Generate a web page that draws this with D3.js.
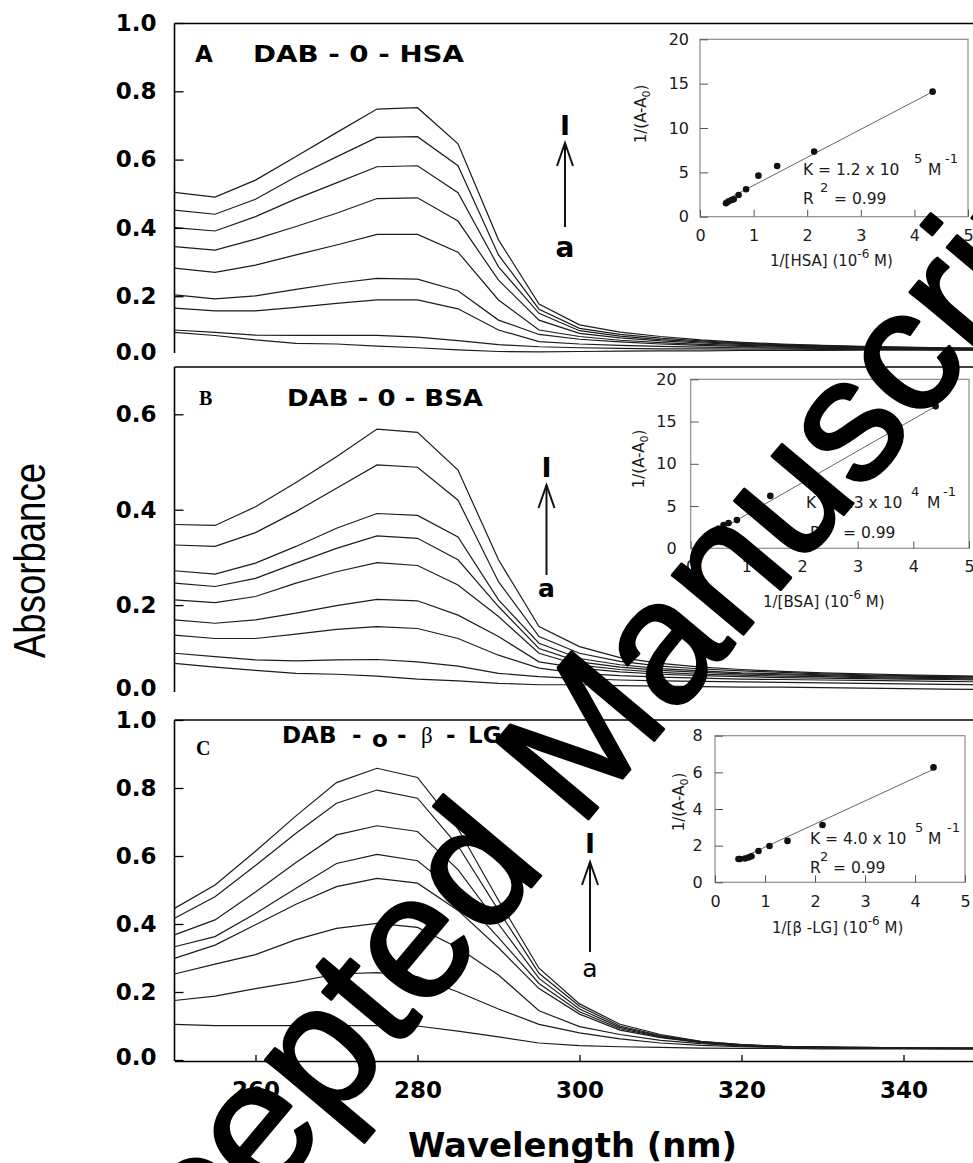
<!DOCTYPE html>
<html><head><meta charset="utf-8">
<script src="https://cdn.jsdelivr.net/npm/d3@7"></script>
<style>
html,body{margin:0;padding:0;background:#fff;}
svg{display:block;}
</style></head>
<body>
<svg id="chart" width="973" height="1163"></svg>
<script>
// ---------------- DATA ----------------
const wavelengths = [250,255,260,265,270,275,280,285,290,295,300,305,310,315,320,325,330,335,340,345,350];

// Panel A : DAB - 0 - HSA (curve a ... top)
const specA1 = [0.094,0.085,0.072,0.062,0.060,0.054,0.049,0.043,0.038,0.037,0.038,0.039,0.040,0.040,0.041,0.041,0.041,0.042,0.042,0.042,0.042];
const specA2 = [0.101,0.094,0.086,0.085,0.085,0.085,0.080,0.070,0.058,0.052,0.049,0.047,0.046,0.046,0.045,0.045,0.044,0.044,0.044,0.043,0.043];
const specA3 = [0.165,0.157,0.157,0.167,0.179,0.189,0.189,0.163,0.101,0.067,0.060,0.056,0.053,0.051,0.049,0.048,0.047,0.046,0.045,0.044,0.044];
const specA4 = [0.204,0.192,0.201,0.220,0.238,0.252,0.250,0.216,0.130,0.088,0.074,0.066,0.060,0.056,0.053,0.051,0.049,0.048,0.046,0.045,0.045];
const specA5 = [0.282,0.270,0.291,0.321,0.350,0.381,0.381,0.329,0.189,0.101,0.082,0.071,0.064,0.059,0.056,0.053,0.051,0.049,0.047,0.046,0.045];
const specA6 = [0.345,0.335,0.367,0.404,0.443,0.486,0.488,0.420,0.247,0.130,0.091,0.078,0.069,0.063,0.059,0.055,0.052,0.050,0.048,0.047,0.046];
const specA7 = [0.401,0.391,0.433,0.485,0.532,0.579,0.582,0.503,0.286,0.150,0.099,0.083,0.073,0.066,0.061,0.057,0.054,0.051,0.049,0.048,0.047];
const specA8 = [0.452,0.440,0.484,0.550,0.608,0.665,0.667,0.582,0.321,0.162,0.106,0.088,0.077,0.069,0.063,0.058,0.055,0.052,0.050,0.048,0.047];
const specA9 = [0.504,0.490,0.540,0.609,0.679,0.748,0.752,0.646,0.365,0.177,0.116,0.095,0.082,0.072,0.065,0.060,0.056,0.053,0.051,0.049,0.048];

// Panel B : DAB - 0 - BSA
const specB1 = [0.078,0.070,0.063,0.057,0.055,0.051,0.045,0.041,0.036,0.033,0.033,0.031,0.030,0.029,0.028,0.028,0.027,0.026,0.025,0.024,0.023];
const specB2 = [0.099,0.092,0.085,0.083,0.085,0.086,0.081,0.072,0.057,0.050,0.046,0.043,0.041,0.040,0.039,0.038,0.037,0.036,0.035,0.034,0.033];
const specB3 = [0.137,0.130,0.130,0.139,0.149,0.155,0.151,0.130,0.095,0.068,0.057,0.052,0.049,0.047,0.045,0.044,0.043,0.042,0.041,0.040,0.039];
const specB4 = [0.169,0.162,0.169,0.183,0.199,0.212,0.209,0.179,0.134,0.081,0.068,0.060,0.055,0.052,0.050,0.048,0.047,0.046,0.045,0.044,0.043];
const specB5 = [0.211,0.205,0.218,0.246,0.270,0.289,0.283,0.242,0.176,0.099,0.074,0.065,0.059,0.055,0.053,0.051,0.050,0.048,0.047,0.046,0.045];
const specB6 = [0.246,0.239,0.256,0.288,0.319,0.345,0.340,0.295,0.197,0.109,0.081,0.070,0.063,0.059,0.056,0.054,0.052,0.050,0.049,0.048,0.047];
const specB7 = [0.272,0.265,0.288,0.323,0.361,0.392,0.388,0.343,0.211,0.120,0.088,0.075,0.067,0.062,0.058,0.056,0.054,0.052,0.051,0.050,0.049];
const specB8 = [0.326,0.323,0.352,0.396,0.445,0.494,0.489,0.420,0.249,0.134,0.099,0.082,0.072,0.066,0.062,0.059,0.056,0.054,0.052,0.051,0.050];
const specB9 = [0.369,0.367,0.406,0.457,0.511,0.569,0.562,0.483,0.295,0.155,0.113,0.090,0.078,0.070,0.065,0.061,0.058,0.056,0.054,0.052,0.051];

// Panel C : DAB - 0 - beta-LG
const specC1 = [0.105,0.101,0.101,0.101,0.101,0.101,0.100,0.085,0.068,0.050,0.042,0.039,0.037,0.035,0.034,0.034,0.033,0.033,0.033,0.033,0.033];
const specC2 = [0.175,0.188,0.210,0.230,0.253,0.257,0.245,0.200,0.150,0.105,0.080,0.062,0.050,0.043,0.039,0.037,0.035,0.034,0.034,0.033,0.033];
const specC3 = [0.253,0.282,0.310,0.354,0.387,0.402,0.390,0.330,0.250,0.145,0.098,0.075,0.058,0.048,0.041,0.038,0.036,0.035,0.034,0.034,0.033];
const specC4 = [0.299,0.338,0.398,0.458,0.510,0.534,0.520,0.440,0.330,0.210,0.135,0.088,0.066,0.051,0.043,0.039,0.037,0.036,0.035,0.034,0.034];
const specC5 = [0.333,0.363,0.431,0.505,0.578,0.605,0.586,0.490,0.360,0.225,0.142,0.092,0.068,0.052,0.044,0.039,0.037,0.036,0.035,0.034,0.034];
const specC6 = [0.368,0.412,0.494,0.581,0.662,0.689,0.672,0.560,0.400,0.240,0.150,0.096,0.070,0.053,0.044,0.040,0.038,0.036,0.035,0.035,0.034];
const specC7 = [0.417,0.480,0.572,0.667,0.755,0.794,0.770,0.630,0.440,0.255,0.158,0.100,0.072,0.054,0.045,0.040,0.038,0.037,0.036,0.035,0.035];
const specC8 = [0.446,0.515,0.614,0.718,0.816,0.858,0.831,0.680,0.470,0.270,0.165,0.105,0.075,0.055,0.045,0.040,0.038,0.037,0.036,0.035,0.035];

const yTicksA = [0, 0.2, 0.4, 0.6, 0.8, 1.0];
const yTicksB = [0, 0.2, 0.4, 0.6];
const yTicksC = [0, 0.2, 0.4, 0.6, 0.8, 1.0];
const xTicks = [260, 280, 300, 320, 340];

// Insets: double-reciprocal plots
const insetAx = [0.485,0.53,0.59,0.63,0.72,0.86,1.09,1.44,2.13,4.34];
const insetAy = [1.51,1.70,1.88,1.96,2.45,3.09,4.63,5.72,7.34,14.1];
const fitA = [3.16, 0.37], fitRangeA = [0.45, 4.34];

const insetBx = [0.44,0.50,0.59,0.68,0.83,1.08,1.43,2.15,4.40];
const insetBy = [1.97,2.35,2.75,3.00,3.34,4.30,6.20,8.90,16.8];
const fitB = [3.77, 0.21], fitRangeB = [0.42, 4.40];

const insetCx = [0.47,0.50,0.60,0.67,0.73,0.87,1.09,1.45,2.15,4.37];
const insetCy = [1.27,1.27,1.30,1.35,1.42,1.71,1.98,2.26,3.13,6.27];
const fitC = [1.26, 0.66], fitRangeC = [0.43, 4.40];

const insetXTicks = [0,1,2,3,4,5];
const insetYTicksAB = [0,5,10,15,20];
const insetYTicksC = [0,2,4,6,8];

// ---------------- DRAW ----------------
const svg = d3.select("#chart");
const W = 973;
const BOLD = "'DejaVu Sans', sans-serif";
const x = d3.scaleLinear().domain([250, 350]).range([174.5, 984.5]);
const defs = svg.append("defs");

const panels = [
  {id:"A", series:[specA1,specA2,specA3,specA4,specA5,specA6,specA7,specA8,specA9],
   y:d3.scaleLinear().domain([0,1]).range([364.5,23]), top:23.5, bottom:353, ticks:yTicksA, zeroShift:-12.5, xAxis:false},
  {id:"B", series:[specB1,specB2,specB3,specB4,specB5,specB6,specB7,specB8,specB9],
   y:d3.scaleLinear().domain([0,0.7]).range([700.5,366.6]), top:367, bottom:692, ticks:yTicksB, zeroShift:-12.5, xAxis:false},
  {id:"C", series:[specC1,specC2,specC3,specC4,specC5,specC6,specC7,specC8],
   y:d3.scaleLinear().domain([0,1]).range([1060,720]), top:720, bottom:1061, ticks:yTicksC, zeroShift:-3, xAxis:true}
];

const line = (ys) => d3.line().x((d,i)=>x(wavelengths[i])).y(d=>ys(d));

panels.forEach(p => {
  const left = x(250);
  defs.append("clipPath").attr("id","clip"+p.id).append("rect")
    .attr("x", left).attr("y", p.top).attr("width", W-left).attr("height", p.bottom-p.top);
  const g = svg.append("g");
  g.append("g").attr("clip-path", `url(#clip${p.id})`)
    .selectAll("path").data(p.series).join("path")
    .attr("d", d => line(p.y)(d))
    .attr("fill","none").attr("stroke","#1c1c1c").attr("stroke-width",1.2);

  const ay = g.append("g").attr("transform",`translate(${left},0)`)
    .call(d3.axisLeft(p.y).tickValues(p.ticks).tickFormat(d3.format(".1f"))
      .tickSize(-9).tickPadding(18).tickSizeOuter(0));
  ay.select(".domain").remove();
  ay.selectAll(".tick line").attr("stroke","#000").attr("stroke-width",1.3);
  ay.selectAll(".tick text").attr("font-family",BOLD).attr("font-weight","bold")
    .attr("font-size",23).attr("fill","#000");
  const zero = ay.selectAll(".tick").filter(d => d === 0);
  if (!p.xAxis) zero.select("line").remove();
  zero.select("text").attr("transform",`translate(0,${p.zeroShift})`);

  g.append("line").attr("x1",left).attr("x2",W).attr("y1",p.top).attr("y2",p.top)
    .attr("stroke","#000").attr("stroke-width",1.6);
  g.append("line").attr("x1",left).attr("x2",left).attr("y1",p.top).attr("y2",p.bottom)
    .attr("stroke","#000").attr("stroke-width",1.6);

  if (p.xAxis) {
    const ax = g.append("g").attr("transform",`translate(0,${p.bottom})`)
      .call(d3.axisBottom(x).tickValues(xTicks).tickFormat(d3.format("d"))
        .tickSize(-6).tickPadding(20.5).tickSizeOuter(0));
    ax.select(".domain").attr("stroke","#000").attr("stroke-width",1.6);
    ax.selectAll(".tick line").attr("stroke","#000").attr("stroke-width",1.3);
    ax.selectAll(".tick text").attr("font-family",BOLD).attr("font-weight","bold")
      .attr("font-size",23).attr("fill","#000");
  }
});

// ---------- panel titles ----------
function boldText(txt, xx, yy, size, opts={}) {
  const t = svg.append("text").attr("x",xx).attr("y",yy).text(txt)
    .attr("font-family", opts.family || BOLD).attr("font-weight", opts.weight || "bold")
    .attr("font-size", size).attr("fill","#000");
  if (opts.len) t.attr("textLength", opts.len).attr("lengthAdjust","spacingAndGlyphs");
  return t;
}
boldText("A", 195, 62, 23);
boldText("DAB - 0 - HSA", 253, 62, 23, {len:211});
boldText("B", 199, 405, 20, {family:"'Liberation Serif', serif"});
boldText("DAB - 0 - BSA", 287, 406, 23, {len:196});
boldText("C", 196, 755, 20, {family:"'Liberation Serif', serif"});
const tC = svg.append("text").attr("y",743).attr("font-family",BOLD).attr("font-size",23)
  .attr("font-weight","bold").attr("fill","#000");
tC.append("tspan").attr("x",282).text("DAB");
tC.append("tspan").attr("x",352).text("-");
tC.append("tspan").attr("x",372).attr("dy",4).text("o");
tC.append("tspan").attr("x",397).attr("dy",-4).text("-");
tC.append("tspan").attr("x",421).attr("font-weight","normal").attr("font-family","'Liberation Serif', serif").text("β");
tC.append("tspan").attr("x",446).text("-");
tC.append("tspan").attr("x",468).text("LG");

// ---------- arrows ----------
function arrow(ax, iBase, tip, tail, aBase, aSize, aWeight) {
  const g = svg.append("g").attr("stroke","#111").attr("stroke-width",2).attr("fill","none");
  g.append("line").attr("x1",ax).attr("x2",ax).attr("y1",tip).attr("y2",tail);
  g.append("polyline").attr("points",`${ax-8},${tip+23} ${ax},${tip} ${ax+8},${tip+23}`);
  svg.append("text").attr("x",ax).attr("y",iBase).attr("text-anchor","middle")
    .attr("font-family",BOLD).attr("font-weight","bold").attr("font-size",27).text("I");
  svg.append("text").attr("x",ax).attr("y",aBase).attr("text-anchor","middle")
    .attr("font-family",BOLD).attr("font-weight",aWeight).attr("font-size",aSize).text("a");
}
arrow(565, 135, 143, 227, 257, 28, "bold");
arrow(546.5, 477, 485, 575, 597, 25, "bold");
arrow(590, 853, 862, 952, 977, 25, "normal");

// ---------- insets ----------
const REG = "'DejaVu Sans', sans-serif";
function inset(o) {
  const g = svg.append("g");
  const sx = d3.scaleLinear().domain([0,5]).range(o.xr);
  const sy = d3.scaleLinear().domain(o.yd).range(o.yr);
  g.append("rect").attr("x",o.xr[0]).attr("y",o.yr[1])
    .attr("width",o.xr[1]-o.xr[0]).attr("height",o.yr[0]-o.yr[1])
    .attr("fill","none").attr("stroke","#8c8c8c").attr("stroke-width",1.2);
  const ax = g.append("g").attr("transform",`translate(0,${o.yr[0]})`)
    .call(d3.axisBottom(sx).tickValues(insetXTicks).tickFormat(d3.format("d"))
      .tickSize(-7).tickPadding(o.xPad).tickSizeOuter(0));
  const ay = g.append("g").attr("transform",`translate(${o.xr[0]},0)`)
    .call(d3.axisLeft(sy).tickValues(o.yTicks).tickFormat(d3.format("d"))
      .tickSize(-8).tickPadding(o.yPad).tickSizeOuter(0));
  [ax, ay].forEach(a => {
    a.select(".domain").remove();
    a.selectAll(".tick line").attr("stroke","#555").attr("stroke-width",1);
    a.selectAll(".tick text").attr("font-family",REG).attr("font-size",16).attr("fill","#1a1a1a");
  });
  g.append("line").attr("x1",sx(o.fr[0])).attr("x2",sx(o.fr[1]))
    .attr("y1",sy(o.fit[0]*o.fr[0]+o.fit[1])).attr("y2",sy(o.fit[0]*o.fr[1]+o.fit[1]))
    .attr("stroke","#666").attr("stroke-width",1);
  g.selectAll("circle.pt").data(o.xs).join("circle").attr("class","pt")
    .attr("cx",d=>sx(d)).attr("cy",(d,i)=>sy(o.ys[i])).attr("r",3.3).attr("fill","#111");
  const yl = g.append("text").attr("transform",`translate(${o.ylab[0]},${o.ylab[1]}) rotate(-90)`)
    .attr("text-anchor","middle").attr("font-family",REG).attr("font-size",15).attr("fill","#1a1a1a");
  yl.append("tspan").text("1/(A-A");
  yl.append("tspan").attr("font-size",11).attr("dy",4).text("0");
  yl.append("tspan").attr("dy",-4).text(")");
  const xl = g.append("text").attr("x",o.xlab[0]).attr("y",o.xlab[1])
    .attr("font-family",REG).attr("font-size",15).attr("fill","#1a1a1a");
  xl.append("tspan").text(o.xname + " (10");
  xl.append("tspan").attr("font-size",12).attr("dy",-8).text("-6");
  xl.append("tspan").attr("dy",8).text(" M)");
  const k = g.append("text").attr("y",o.k[1]).attr("font-family",REG).attr("font-size",15.5).attr("fill","#1a1a1a");
  k.append("tspan").attr("x",o.k[0]).text(o.kText);
  k.append("tspan").attr("x",o.k[2]).attr("dy",-12).attr("font-size",13).text(o.kExp);
  k.append("tspan").attr("x",o.k[3]).attr("dy",12).text("M");
  k.append("tspan").attr("x",o.k[4]).attr("dy",-12).attr("font-size",13).text("-1");
  const r = g.append("text").attr("y",o.r[1]).attr("font-family",REG).attr("font-size",15.5).attr("fill","#1a1a1a");
  r.append("tspan").attr("x",o.r[0]).text("R");
  r.append("tspan").attr("x",o.r[2]).attr("dy",-12).attr("font-size",13).text("2");
  r.append("tspan").attr("x",o.r[3]).attr("dy",12).text("= 0.99");
}

inset({xr:[700,968], yd:[0,20], yr:[216.7,39.3], yTicks:insetYTicksAB, xPad:12.5, yPad:11,
  xs:insetAx, ys:insetAy, fit:fitA, fr:fitRangeA, ylab:[646,114], xlab:[770,266], xname:"1/[HSA]",
  kText:"K = 1.2 x 10", kExp:"5", k:[803,175,914,928,945], r:[803,204,820,834]});
inset({xr:[690.7,969], yd:[0,20], yr:[548.3,379.3], yTicks:insetYTicksAB, xPad:12.5, yPad:14,
  xs:insetBx, ys:insetBy, fit:fitB, fr:fitRangeB, ylab:[644,459], xlab:[763,607], xname:"1/[BSA]",
  kText:"K = 9.3 x 10", kExp:"4", k:[806,508,911,927,943], r:[810,538,826,843]});
inset({xr:[715,965], yd:[0,8], yr:[882.3,735.7], yTicks:insetYTicksC, xPad:13, yPad:12.3,
  xs:insetCx, ys:insetCy, fit:fitC, fr:fitRangeC, ylab:[684,802], xlab:[772,933], xname:"1/[β -LG]",
  kText:"K = 4.0 x 10", kExp:"5", k:[810,844,915,928,947], r:[810,873,820,833]});

// ---------- axis titles ----------
svg.append("text").attr("transform","translate(45,560.5) rotate(-90)").attr("text-anchor","middle")
  .attr("font-family","'Liberation Sans Narrow', 'Liberation Sans', sans-serif").attr("font-size",44)
  .attr("textLength",195).attr("lengthAdjust","spacingAndGlyphs").attr("fill","#000").text("Absorbance");
svg.append("text").attr("x",408).attr("y",1157).attr("font-family",BOLD).attr("font-weight","bold")
  .attr("font-size",33).attr("textLength",329).attr("lengthAdjust","spacingAndGlyphs").attr("fill","#000")
  .text("Wavelength (nm)");

// ---------- watermark ----------
svg.append("text").attr("transform","translate(79,1426) rotate(-50)")
  .attr("font-family","'Liberation Sans', Arial, sans-serif").attr("font-size",175)
  .attr("fill","#000").attr("stroke","#000").attr("stroke-width",3).attr("stroke-linejoin","round")
  .text("Accepted Manuscript");
</script>
</body></html>
